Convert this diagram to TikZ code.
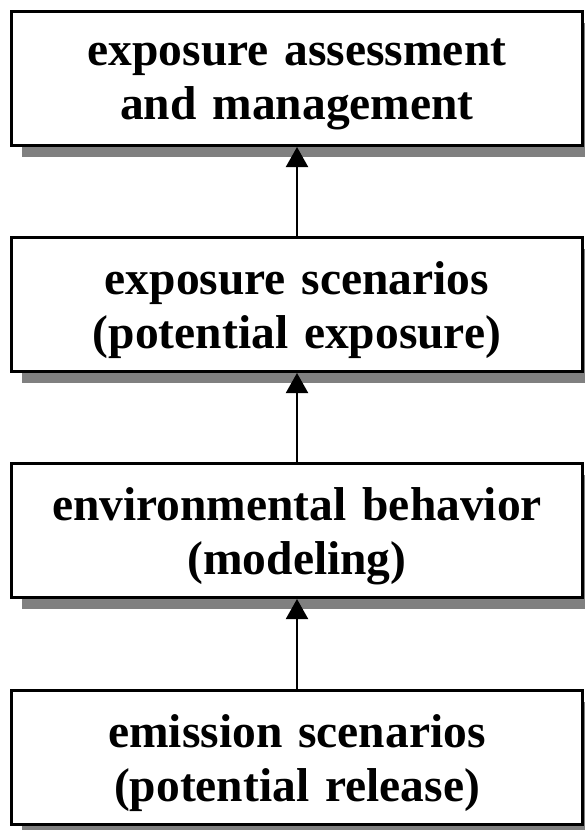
\documentclass[tikz,border=0pt]{standalone}
\usepackage{fontspec}
\setmainfont{Liberation Serif}
\usetikzlibrary{arrows.meta,shadows}
\begin{document}
\begin{tikzpicture}[x=1pt,y=-1pt,
  stage/.style={draw=black, line width=3pt, fill=white,
    minimum width=571pt, minimum height=134pt, inner sep=0pt,
    drop shadow={shadow xshift=10pt, shadow yshift=-11pt,
      fill=black!50, opacity=1, draw=none}},
  caption/.style={inner sep=0pt, text width=560pt, align=center,
    font=\fontsize{47.5pt}{54pt}\selectfont\bfseries, yshift=-6pt},
  flow/.style={line width=2pt, -{Triangle[length=20pt,width=22pt]}}]
  \useasboundingbox (0,0) rectangle (585,830);
  \begin{scope}
    \clip (0,0) rectangle (585,830);
    \node[stage] (assess) at (297,78.5) {};
    \node[stage] (expo) at (297,304.5) {};
    \node[stage] (envir) at (297,530.5) {};
    \node[stage] (emis) at (297,757.5) {};
  \end{scope}
  % box captions
  \node[caption] (assesst) at (assess) {exposure assessment\\and management};
  \node[caption] (expot) at (expo) {exposure scenarios\\(potential exposure)};
  \node[caption] (envirt) at (envir) {environmental behavior\hspace*{0.3em}\\(modeling)};
  \node[caption] (emist) at (emis) {emission scenarios\\(potential release)};
  \draw[flow] (expo.north) -- (assess.south);
  \draw[flow] (envir.north) -- (expo.south);
  \draw[flow] (emis.north) -- (envir.south);
\end{tikzpicture}
\end{document}
